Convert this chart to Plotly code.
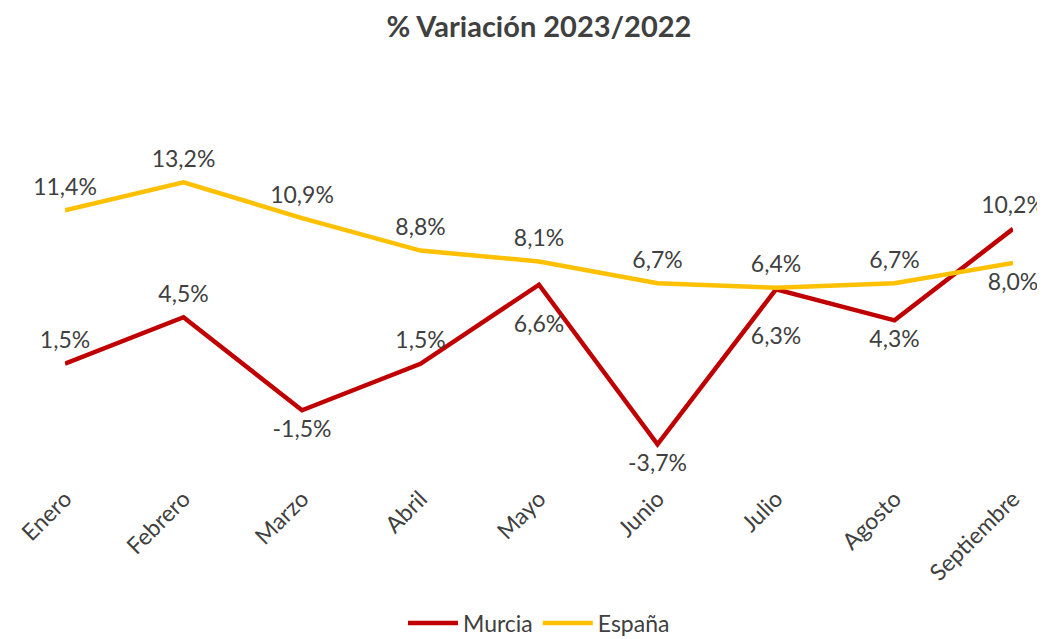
import plotly.graph_objects as go

months = ["Enero", "Febrero", "Marzo", "Abril", "Mayo", "Junio", "Julio", "Agosto", "Septiembre"]
murcia = [1.5, 4.5, -1.5, 1.5, 6.6, -3.7, 6.3, 4.3, 10.2]
espana = [11.4, 13.2, 10.9, 8.8, 8.1, 6.7, 6.4, 6.7, 8.0]
murcia_pos = ["top center", "top center", "bottom center", "top center", "bottom center",
              "bottom center", "bottom center", "bottom center", "top center"]
espana_pos = ["top center"] * 8 + ["bottom center"]
# invisible marker sizes control the label distance from the line
murcia_gap = [14, 14, 14, 14, 46, 14, 58, 14, 14]
espana_gap = [14] * 9

def fmt(v):
    return f"{v:.1f}".replace(".", ",") + "%"

FONT = "Lato, Open Sans, sans-serif"
TXT = "#404040"

W, H = 1037, 631  # page body has an 8px margin

fig = go.Figure()
fig.add_trace(go.Scatter(
    x=months, y=murcia, name="Murcia", mode="lines+markers+text",
    line=dict(color="#C00000", width=4.5),
    marker=dict(size=murcia_gap, color="rgba(0,0,0,0)", line=dict(width=0)),
    text=[fmt(v) for v in murcia], textposition=murcia_pos,
    textfont=dict(size=23, color=TXT, family=FONT),
    cliponaxis=False,
))
fig.add_trace(go.Scatter(
    x=months, y=espana, name="España", mode="lines+markers+text",
    line=dict(color="#FFC000", width=4.5),
    marker=dict(size=espana_gap, color="rgba(0,0,0,0)", line=dict(width=0)),
    text=[fmt(v) for v in espana], textposition=espana_pos,
    textfont=dict(size=23, color=TXT, family=FONT),
    cliponaxis=False,
))

fig.update_layout(
    width=W, height=H,
    paper_bgcolor="white", plot_bgcolor="white",
    margin=dict(l=57, r=32, t=131, b=159, autoexpand=False),
    title=dict(text="<b>% Variación 2023/2022</b>", x=0.5, xanchor="center",
               xref="paper",
               y=1 - 19 / H, yanchor="middle",
               font=dict(size=29, color=TXT, family=FONT)),
    font=dict(family=FONT, color=TXT),
    showlegend=True,
    legend=dict(orientation="h", x=0.5, xanchor="center", xref="paper",
                yref="container", y=1 - 615 / H, yanchor="middle",
                font=dict(size=23, color=TXT, family=FONT), itemwidth=50),
    xaxis=dict(showgrid=False, zeroline=False, showline=False, ticks="",
               tickangle=-45, tickfont=dict(size=23, color=TXT, family=FONT),
               range=[0, 8], automargin=False),
    yaxis=dict(visible=False, range=[-6, 16], automargin=False),
)

fig.write_html("out.html")
